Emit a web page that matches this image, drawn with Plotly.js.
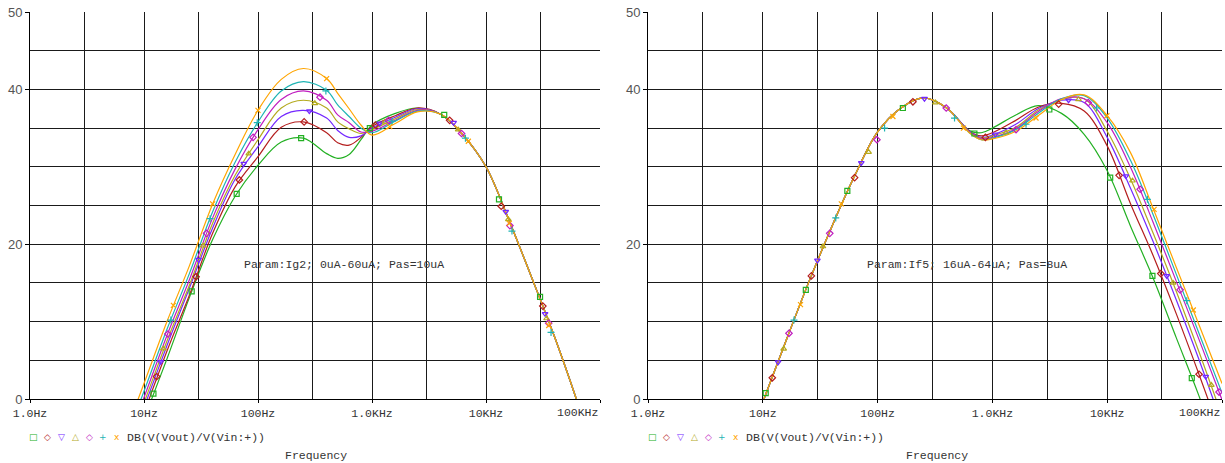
<!DOCTYPE html>
<html><head><meta charset="utf-8">
<script src="https://cdn.plot.ly/plotly-3.0.1.min.js"></script>
<style>html,body{margin:0;padding:0;background:#fff}#plot{width:1225px;height:463px}</style>
</head><body><div id="plot"></div>
<script>
// ---------- DATA ----------
const seriesNames = ["Ig2=0uA","Ig2=10uA","Ig2=20uA","Ig2=30uA","Ig2=40uA","Ig2=50uA","Ig2=60uA"];
const seriesNamesR = ["If5=16uA","If5=24uA","If5=32uA","If5=40uA","If5=48uA","If5=56uA","If5=64uA"];

// Left chart (Ig2 sweep) – frequency (Hz) and dB
const freqL = [8,10,16,25,40,63,100,160,250,400,500,630,800,1000,1600,2500,4000,6300,10000,16000,25000,40000,63000,80000];
const leftGreen   = [-6.5,-2.6,5.3,13.1,20.6,26.2,30.2,33.2,33.7,31.7,31.1,31.6,33.5,35.4,36.9,37.6,36.8,34.1,30.0,23.0,15.8,8.0,-0.3,-5.0];
const leftRed     = [-5.6,-1.8,6.3,13.4,21.4,27.4,31.3,35.1,35.8,34.4,33.1,32.8,33.8,35.2,36.6,37.6,36.8,34.1,30.0,23.0,15.8,8.0,-0.3,-5.0];
const leftBlue    = [-4.9,-1.1,7.0,14.3,22.1,28.4,32.6,36.5,37.3,36.3,34.7,33.8,34.0,35.0,36.4,37.5,36.8,34.1,30.0,23.0,15.8,8.0,-0.3,-5.0];
const leftOlive   = [-4.3,-0.5,7.6,14.7,22.7,28.9,33.5,37.6,38.6,37.6,35.8,34.9,34.3,34.8,36.2,37.4,36.8,34.1,30.0,23.0,15.8,8.0,-0.3,-5.0];
const leftMagenta = [-3.6,0.2,8.3,15.4,23.4,29.7,34.8,38.7,39.8,38.6,36.7,35.7,34.5,34.6,36.0,37.3,36.8,34.1,30.0,23.0,15.8,8.0,-0.3,-5.0];
const leftCyan    = [-2.8,1.0,9.1,16.2,24.2,30.6,35.8,39.8,41.0,39.9,38.0,36.5,35.0,34.4,35.9,37.2,36.8,34.1,30.0,23.0,15.8,8.0,-0.3,-5.0];
const leftOrange  = [-1.8,2.0,10.1,17.2,25.2,31.6,37.3,41.3,42.7,41.4,39.5,37.5,35.4,34.1,35.6,37.1,36.8,34.1,30.0,23.0,15.8,8.0,-0.3,-5.0];

// Left chart marker points (frequency, dB) per series
const leftMarkF = [
  [12.1,26.2,65,239,957,4300,13000,29800],
  [12.9,28.6,68.6,254,1070,4800,13600,31500],
  [14,30.1,75,282,1170,5200,14900,33000],
  [14.8,33,83,315,1300,5700,15700,34000],
  [16.2,35.4,90.6,350,1400,6100,16200,35500],
  [17.2,38,98.5,394,1500,6600,16900,37200],
  [18.1,40,100,400,1430,7000,16000,35500]
];
const leftMarkDb = [
  [0.7,13.9,26.5,33.7,35.0,36.7,25.8,13.2],
  [2.9,15.8,28.3,35.8,35.4,36.0,24.9,12.0],
  [4.8,18.0,30.4,37.2,35.6,35.7,24.2,11.0],
  [6.5,19.8,31.7,38.2,35.8,34.8,23.2,10.4],
  [8.4,21.4,33.8,39.0,36.0,34.3,22.4,9.8],
  [10.2,23.3,35.7,39.8,35.9,33.7,21.7,8.6],
  [12.1,25.2,37.3,41.4,35.2,33.3,22.7,9.5]
];

// Right chart (If5 sweep)
const freqR = [8,10,16,25,40,63,100,160,250,400,630,800,1000,1600,2500,4000,6300,10000,16000,25000,40000,63000,100000];
const rightGreen   = [-4.1,-0.4,7.6,15.0,22.3,28.8,34.5,37.6,38.9,37.6,34.7,34.4,35.0,36.7,37.9,36.9,34.2,29.5,22.3,15.7,7.9,0.4,-8.0];
const rightRed     = [-4.1,-0.4,7.6,15.0,22.3,28.8,34.5,37.6,38.9,37.6,34.6,34.0,34.4,36.0,37.7,38.2,37.2,32.7,25.2,18.6,11.0,3.2,-5.0];
const rightBlue    = [-4.1,-0.4,7.6,15.0,22.3,28.8,34.5,37.6,38.9,37.6,34.6,33.8,34.1,35.5,37.5,38.6,38.3,33.8,27.2,20.4,12.8,5.1,-3.3];
const rightOlive   = [-4.1,-0.4,7.6,15.0,22.3,28.8,34.5,37.6,38.9,37.6,34.5,33.7,34.0,35.1,37.3,38.7,38.8,34.6,28.4,21.5,13.9,6.1,-2.2];
const rightMagenta = [-4.1,-0.4,7.6,15.0,22.3,28.8,34.5,37.6,38.9,37.6,34.5,33.6,33.8,34.9,37.1,38.8,38.8,35.7,29.9,22.9,15.2,7.7,-0.1];
const rightCyan    = [-4.1,-0.4,7.6,15.0,22.3,28.8,34.5,37.6,38.9,37.6,34.4,33.5,33.7,34.8,36.9,38.8,39.2,36.3,30.8,23.9,16.1,8.5,0.8];
const rightOrange  = [-4.1,-0.4,7.6,15.0,22.3,28.8,34.5,37.6,38.9,37.6,34.4,33.5,33.6,34.6,36.6,38.7,39.3,36.6,31.8,24.7,17.0,9.6,2.0];

const rightMarkF = [
  [10.6,23.7,54.5,166,697,3133,10620,24770,54550],
  [12.1,26.5,63.1,203,869,3776,12700,29300,63100],
  [13.6,29.9,72.1,256,1062,4607,14550,33040,72140],
  [15.2,33.4,83.5,319,1315,5623,16600,37500,80750],
  [16.9,38.3,98.6,396,1607,6835,19360,43150,94190],
  [18.7,43.2,115,468,1963,8075,22400,49330],
  [21.3,48.3,136,560,2399,9935,25630,56260]
];
const rightMarkDb = [
  [0.76,14.1,26.9,37.6,34.3,37.4,28.6,15.9,2.7],
  [2.74,15.9,28.6,38.4,33.8,38.1,28.9,16.2,3.2],
  [4.76,17.9,30.5,38.8,34.2,38.6,28.8,15.9,2.9],
  [6.48,19.7,31.9,38.3,34.4,38.7,28.2,15.0,1.8],
  [8.49,21.4,33.5,37.6,34.8,38.3,27.1,14.1,0.9],
  [10.2,23.4,35.0,36.3,35.5,37.6,25.8,12.7],
  [12.2,25.2,36.5,35.0,36.3,36.6,24.5,11.5]
];

const xTickVals = [1,10,100,1000,10000,100000];
const xTickText = ["1.0Hz","10Hz","100Hz","1.0KHz","10KHz","100KHz"];
const xMinorVals = [3,30,300,3000,30000];
const yTickVals = [0,20,40,50];
const yMinorVals = [5,10,15,25,30,35,45];
const paramTextL = "Param:Ig2; 0uA-60uA; Pas=10uA";
const paramTextR = "Param:If5; 16uA-64uA; Pas=8uA";
const legendText = "DB(V(Vout)/V(Vin:+))";
const xTitle = "Frequency";

// ---------- STYLE ----------
const colors = ["#22b022","#b41e1e","#7428ff","#b4aa1e","#c01ec0","#1eb4b4","#ffa500"];
const symbols = ["square-open","diamond-open","triangle-down-open","triangle-up-open","diamond-open","cross-thin-open","x-thin-open"];
const legendGlyphs = ["\u25A1","\u25C7","\u25BD","\u25B3","\u25C7","+","x"];
const W = 1225, H = 463;
const monoFont = "Liberation Mono, DejaVu Sans Mono, monospace";

const leftCurves = [leftGreen,leftRed,leftBlue,leftOlive,leftMagenta,leftCyan,leftOrange];
const rightCurves = [rightGreen,rightRed,rightBlue,rightOlive,rightMagenta,rightCyan,rightOrange];

const traces = [];
function addSet(curves, freq, mf, md, xa, ya, names){
  curves.forEach((c,i)=>{
    traces.push({x:freq, y:c, xaxis:xa, yaxis:ya, type:"scatter", mode:"lines",
      name:names[i], line:{color:colors[i], width:1.2, shape:"spline", smoothing:1}, hoverinfo:"x+y"});
  });
  curves.forEach((c,i)=>{
    traces.push({x:mf[i], y:md[i], xaxis:xa, yaxis:ya, type:"scatter", mode:"markers",
      name:names[i], showlegend:false, cliponaxis:true,
      marker:{symbol:symbols[i], size:5, color:colors[i], line:{color:colors[i], width:1.2}}});
  });
}
addSet(leftCurves, freqL, leftMarkF, leftMarkDb, "x", "y", seriesNames);
addSet(rightCurves, freqR, rightMarkF, rightMarkDb, "x2", "y2", seriesNamesR);

// last x tick label is drawn right-aligned at the plot edge (as in the original)
const lastIdx = xTickText.length - 1;
const tickTextAxis = xTickText.map((t,i)=> i===lastIdx ? "" : t);
const gridC = "#1a1a1a";
const tickFont = {family:monoFont, size:11.5, color:"#333"};
function xAxis(dom, anchor){
  return {type:"log", domain:dom, anchor:anchor, range:[0,5],
    tickvals:xTickVals, ticktext:tickTextAxis, ticks:"outside", ticklen:3, tickcolor:"#000",
    tickfont:tickFont,
    showgrid:true, gridcolor:gridC, gridwidth:1, showline:true, linecolor:"#000", linewidth:1,
    zeroline:false, fixedrange:true,
    minor:{tickvals:xMinorVals, showgrid:true, gridcolor:gridC, gridwidth:1, ticks:""}};
}
function yAxis(anchor){
  return {domain:[1-399/H, 1-12/H], anchor:anchor, range:[0,50],
    tickvals:yTickVals, ticktext:yTickVals.map(String), ticks:"outside", ticklen:4, tickcolor:"#000",
    tickfont:{family:"Liberation Sans, Arial, sans-serif", size:13, color:"#555"},
    showgrid:true, gridcolor:gridC, gridwidth:1, showline:true, linecolor:"#000", linewidth:1,
    zeroline:false, fixedrange:true,
    minor:{tickvals:yMinorVals, showgrid:true, gridcolor:gridC, gridwidth:1, ticks:""}};
}

const annotations = [];
function textAnn(txt, xpx, ypx, anchor){
  annotations.push({text:txt, xref:"paper", yref:"paper", x:xpx/W, y:1-ypx/H,
    xanchor:anchor, yanchor:"middle", showarrow:false,
    font:{family:monoFont, size:11.5, color:"#333"}});
}
textAnn(paramTextL, 242, 264, "left");
textAnn(paramTextR, 865, 264, "left");
textAnn(xTitle, 316, 455, "center");
textAnn(xTitle, 937, 455, "center");
textAnn(legendText, 125, 437, "left");
textAnn(legendText, 744, 437, "left");
// right-aligned last tick label of each x axis
annotations.push({text:xTickText[lastIdx], xref:"x domain", yref:"paper", x:1, y:1-412/H,
  xanchor:"right", yanchor:"middle", showarrow:false, font:tickFont});
annotations.push({text:xTickText[lastIdx], xref:"x2 domain", yref:"paper", x:1, y:1-412/H,
  xanchor:"right", yanchor:"middle", showarrow:false, font:tickFont});
legendGlyphs.forEach((g,i)=>{
  [33, 652].forEach(base=>{
    annotations.push({text:g, xref:"paper", yref:"paper", x:(base+i*14)/W, y:1-437/H,
      xanchor:"center", yanchor:"middle", showarrow:false,
      font:{family:"DejaVu Sans, sans-serif", size:9, color:colors[i]}});
  });
});

const layout = {
  width:W, height:H, margin:{l:0,r:0,t:0,b:0},
  paper_bgcolor:"#fff", plot_bgcolor:"#fff", showlegend:false,
  xaxis:xAxis([30/W, 600/W], "y"),
  yaxis:yAxis("x"),
  xaxis2:xAxis([648/W, 1222/W], "y2"),
  yaxis2:yAxis("x2"),
  annotations:annotations
};
Plotly.newPlot("plot", traces, layout, {displayModeBar:false, staticPlot:true});
</script></body></html>
